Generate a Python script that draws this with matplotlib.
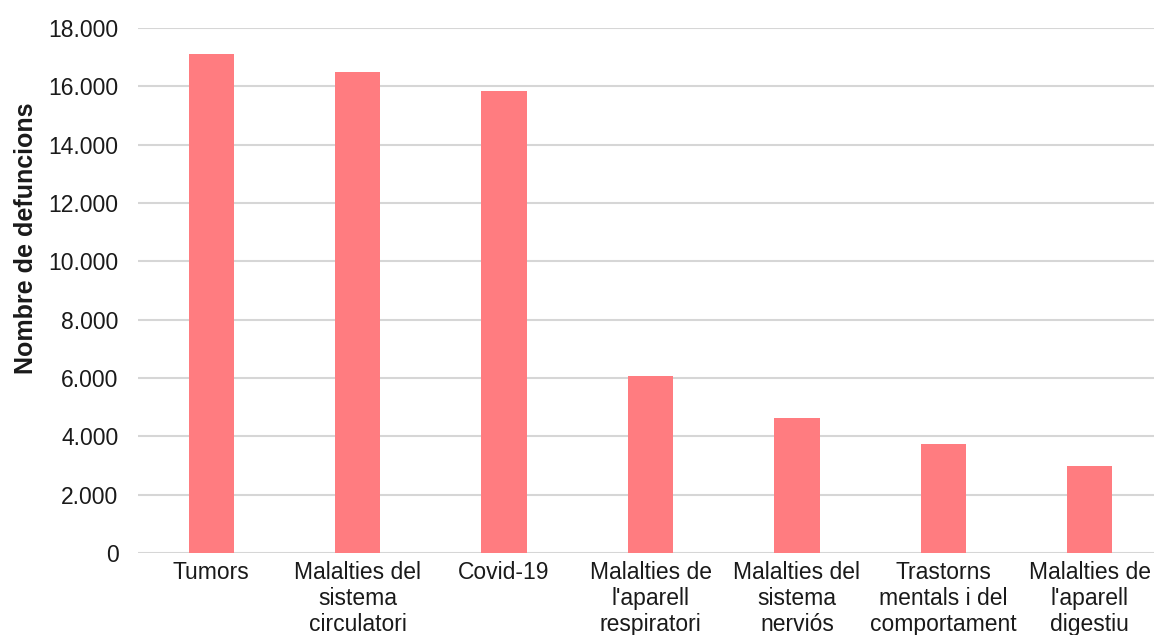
import matplotlib
matplotlib.use('Agg')

import matplotlib.pyplot as plt
from matplotlib.ticker import FuncFormatter, MultipleLocator

# Deaths by cause group
causes = [
    'Tumors',
    'Malalties del\nsistema\ncirculatori',
    'Covid-19',
    "Malalties de\nl'aparell\nrespiratori",
    'Malalties del\nsistema\nnerviós',
    'Trastorns\nmentals i del\ncomportament',
    "Malalties de\nl'aparell\ndigestiu",
]
deaths = [17100, 16490, 15840, 6070, 4630, 3740, 2980]

BAR_COLOR = '#FF7C80'
GRID_COLOR = '#d6d6d6'
TEXT_COLOR = '#1a1a1a'


def thousands(value, pos):
    return f"{int(value):,}".replace(',', '.')


plt.rcParams['font.family'] = ['Liberation Sans', 'DejaVu Sans']

fig = plt.figure(figsize=(11.54, 6.35), dpi=100)
ax = fig.add_axes([138 / 1154, 82 / 635, 1025 / 1154, 525 / 635])

x = range(len(causes))
ax.bar(x, deaths, width=0.31, color=BAR_COLOR, zorder=3)

ax.set_xlim(-0.5, len(causes) - 0.5)
ax.set_ylim(0, 18000)
ax.yaxis.set_major_locator(MultipleLocator(2000))
ax.yaxis.set_major_formatter(FuncFormatter(thousands))

ax.set_xticks(list(x))
ax.set_xticklabels(causes, linespacing=1.15)

ax.grid(axis='y', color=GRID_COLOR, linewidth=1.5, zorder=0)
for side in ['top', 'right', 'left', 'bottom']:
    ax.spines[side].set_visible(False)

ax.tick_params(axis='y', length=0, pad=14, labelsize=16.5, labelcolor=TEXT_COLOR)
ax.tick_params(axis='x', length=0, pad=6, labelsize=16.5, labelcolor=TEXT_COLOR)

ax.set_ylabel('Nombre de defuncions', fontsize=18, fontweight='bold',
              color=TEXT_COLOR)
ax.yaxis.set_label_coords(-0.098, 0.6)

fig.savefig('out.png', dpi=100)
